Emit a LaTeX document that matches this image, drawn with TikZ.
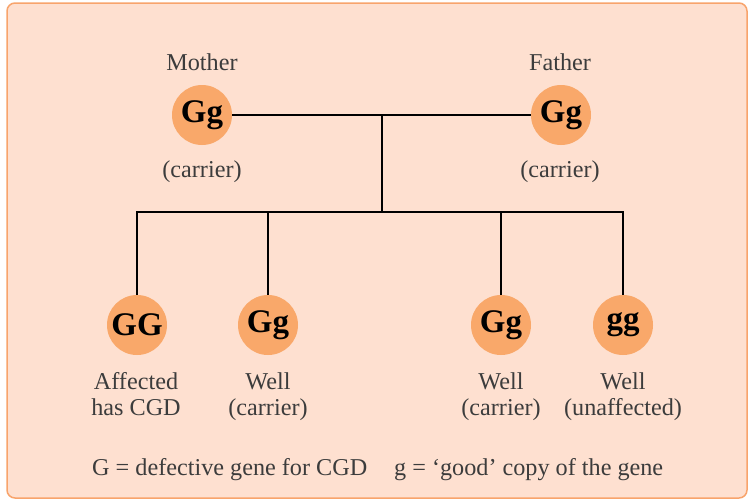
\documentclass[tikz,border=0pt]{standalone}
\usepackage{fontspec}
\setmainfont{Liberation Serif}
\definecolor{bgpeach}{HTML}{FEE0D0}
\definecolor{bgedge}{HTML}{F8A46C}
\definecolor{dotfill}{HTML}{F9A86A}
\definecolor{labelgray}{HTML}{3C3C3C}
\begin{document}
\begin{tikzpicture}[x=1pt,y=-1pt,
  geno/.style={circle,fill=dotfill,minimum size=60pt,inner sep=0pt,font=\fontsize{33}{35}\selectfont\bfseries,text=black},
  lbl/.style={font=\fontsize{24.2}{26}\selectfont,text=labelgray,align=center,inner sep=0pt},
  kid/.style={lbl,anchor=base},
  link/.style={line width=2.8pt,black}]
\useasboundingbox (0,0) rectangle (751,499);
\begin{scope}
\clip (0,0) rectangle (751,499);
\draw[bgedge,fill=bgpeach,line width=1.5pt,rounded corners=8pt] (7,3) rectangle (747,498);
\end{scope}
% parents
\node[geno] (mother) at (202,115) {Gg};
\node[geno] (father) at (561,115) {Gg};
\node[lbl,anchor=base] (mlab) at (202,70) {Mother};
\node[lbl,anchor=base] (flab) at (560,70) {Father};
\node[lbl,anchor=base] (mcar) at (202,177) {(carrier)};
\node[lbl,anchor=base] (fcar) at (560,177) {(carrier)};
% children
\node[geno] (c1) at (137,325) {GG};
\node[geno] (c2) at (268,325) {Gg};
\node[geno] (c3) at (501,325) {Gg};
\node[geno] (c4) at (623,325) {gg};
\node[kid] (l1) at (136,415) {Affected\\has CGD};
\node[kid] (l2) at (268,415) {Well\\(carrier)};
\node[kid] (l3) at (501,415) {Well\\(carrier)};
\node[kid] (l4) at (623,415) {Well\\(unaffected)};
% connectors
\coordinate (mid) at (382,115);
\coordinate (hub) at (382,212);
\coordinate (b1) at (137,212);
\coordinate (b2) at (268,212);
\coordinate (b3) at (501,212);
\coordinate (b4) at (623,212);
\draw[link] (mother) -- (father);
\draw[link] (mid) -- (hub);
\draw[link] (c1.north) -- (b1) -- (b4) -- (c4.north);
\draw[link] (b2) -- (c2.north);
\draw[link] (b3) -- (c3.north);
% legend
\node[lbl,anchor=base west] (leg1) at (92,475) {G = defective gene for CGD};
\node[lbl,anchor=base west] (leg2) at (394,475) {g = ‘good’ copy of the gene};
\end{tikzpicture}
\end{document}
